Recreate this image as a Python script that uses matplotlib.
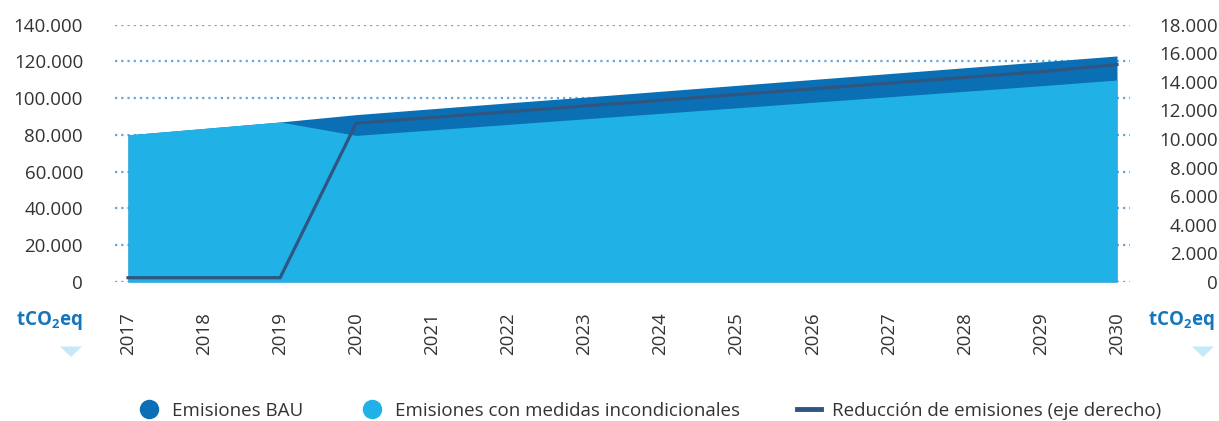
import matplotlib
matplotlib.use("Agg")
import matplotlib.pyplot as plt
from matplotlib.lines import Line2D
from matplotlib.patches import Polygon
from matplotlib.ticker import FuncFormatter

plt.rcParams['font.family'] = ['Open Sans', 'DejaVu Sans']
plt.rcParams['mathtext.fontset'] = 'custom'
plt.rcParams['mathtext.rm'] = 'Open Sans'
plt.rcParams['mathtext.bf'] = 'Open Sans:bold'

# data (tCO2eq)
years = [2017, 2018, 2019, 2020, 2021, 2022, 2023, 2024, 2025, 2026, 2027, 2028, 2029, 2030]
bau = [80000, 83500, 87000, 91000, 94200, 97400, 100500, 103700, 106900, 110100,
       113300, 116500, 119700, 122900]
medidas = [80000, 83500, 87000, 79700, 82700, 85700, 88700, 91700, 94700, 97700,
           100700, 103700, 106700, 109800]
reduccion = [300, 300, 300, 11100, 11500, 11900, 12300, 12700, 13100, 13500,
             13900, 14300, 14700, 15200]

left_ticks = list(range(0, 140001, 20000))
right_ticks = list(range(0, 18001, 2000))

c_bau = '#0a6fb4'
c_med = '#20b2e7'
c_line = '#2f5581'
c_grid = '#62a8da'
c_text = '#333333'
c_unit = '#1576bc'


def miles(v, pos):
    return f'{int(v):,}'.replace(',', '.')


fig = plt.figure(figsize=(12.19, 4.21), dpi=100)
ax = fig.add_axes([115 / 1219, 1 - 282 / 421, (1130 - 115) / 1219, (282 - 24.5) / 421])

ax.fill_between(years, 0, bau, color=c_bau, lw=0, zorder=2)
ax.fill_between(years, 0, medidas, color=c_med, lw=0, zorder=3)

ax.set_xlim(2017 - 13 / 76.08, 2030 + 13 / 76.08)
ax.set_ylim(0, 140000)
ax.set_yticks(left_ticks)
ax.yaxis.set_major_formatter(FuncFormatter(miles))
ax.set_xticks(years)
ax.set_xticklabels([str(y) for y in years], rotation=90, va='top', ha='center')
for y in left_ticks:
    ax.axhline(y, color=c_grid, lw=1.6, ls=(0, (1, 1.8)), zorder=1)
ax.tick_params(axis='y', length=0, pad=23, labelsize=13.5, labelcolor=c_text)
ax.tick_params(axis='x', length=0, pad=22, labelsize=13.5, labelcolor=c_text)
for s in ax.spines.values():
    s.set_visible(False)

ax2 = ax.twinx()
ax2.plot(years, reduccion, color=c_line, lw=2.3, solid_joinstyle='miter', zorder=5)
ax2.set_ylim(0, 18000)
ax2.set_yticks(right_ticks)
ax2.yaxis.set_major_formatter(FuncFormatter(miles))
ax2.tick_params(axis='y', length=0, pad=63, labelsize=13.5, labelcolor=c_text)
for lbl in ax2.get_yticklabels():
    lbl.set_horizontalalignment('right')
for s in ax2.spines.values():
    s.set_visible(False)

# unit labels with small down arrows
unit = r'$\mathbf{tCO_{2}eq}$'
fig.text(49 / 1219, 1 - 321 / 421, unit, color=c_unit, fontsize=13.5, ha='center', va='center')
fig.text(1181 / 1219, 1 - 321 / 421, unit, color=c_unit, fontsize=13.5, ha='center', va='center')
for cx in (71, 1203):
    tri = Polygon([((cx - 11) / 1219, 1 - 346.5 / 421), ((cx + 11) / 1219, 1 - 346.5 / 421),
                   (cx / 1219, 1 - 357 / 421)], closed=True, transform=fig.transFigure,
                  facecolor='#c5e9f8', edgecolor='none')
    fig.add_artist(tri)

handles = [
    Line2D([], [], ls='none', marker='o', markersize=14, color=c_bau, markeredgewidth=0),
    Line2D([], [], ls='none', marker='o', markersize=14, color=c_med, markeredgewidth=0),
    Line2D([], [], color=c_line, lw=3.5),
]
labels = ['Emisiones BAU', 'Emisiones con medidas incondicionales',
          'Reducción de emisiones (eje derecho)']
fig.legend(handles, labels, loc='center', bbox_to_anchor=(649 / 1219, 1 - 411 / 421), ncol=3,
           frameon=False, fontsize=13.5, handlelength=1.3, handletextpad=0.6,
           columnspacing=3.0, labelcolor=c_text, borderpad=0)

fig.savefig('out.png', dpi=100)
